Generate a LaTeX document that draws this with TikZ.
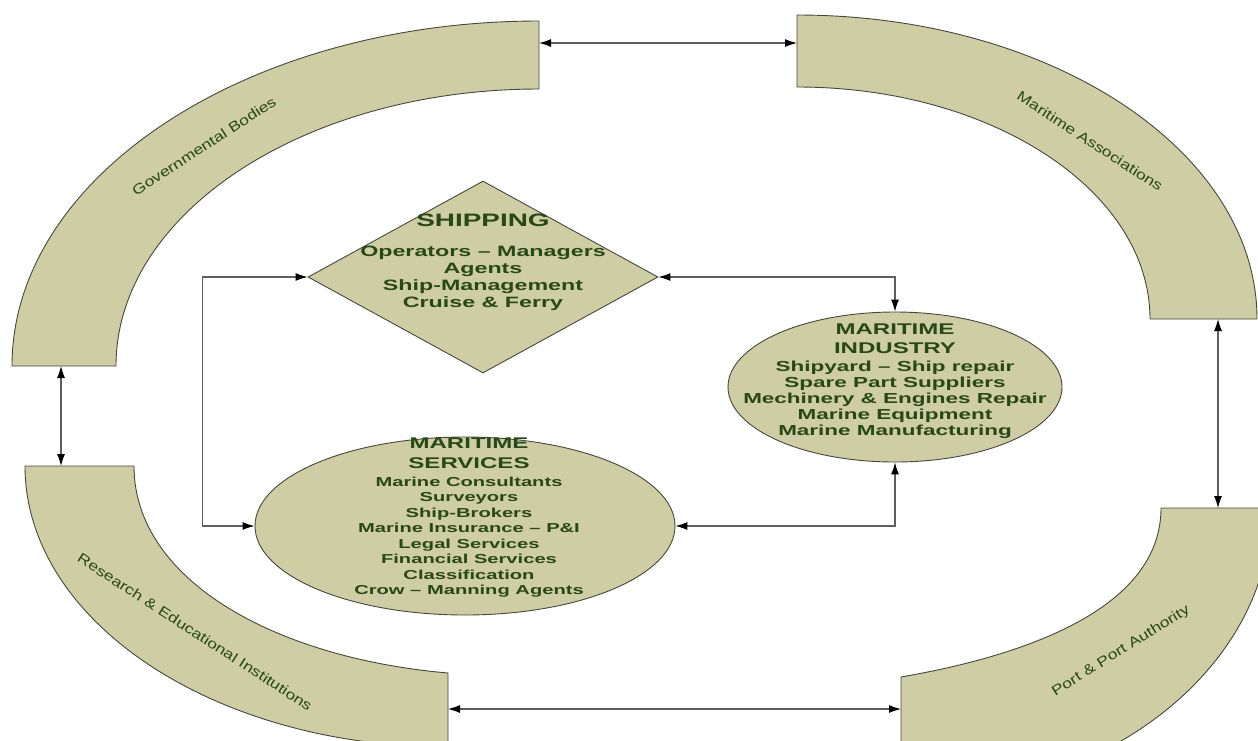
\documentclass[tikz,border=0pt]{standalone}
\usepackage{fontspec}
\setmainfont{Liberation Sans}
\newfontfamily\stretchfont[FakeStretch=1.55]{Liberation Sans}
\newfontfamily\labelfont[FakeStretch=1.25]{Liberation Sans}
\usetikzlibrary{shapes.geometric,arrows.meta}
\definecolor{khaki}{RGB}{206,205,164}
\definecolor{edgecol}{RGB}{70,72,60}
\definecolor{txtgreen}{RGB}{40,72,22}
\definecolor{conncol}{RGB}{95,95,95}
\begin{document}
\begin{tikzpicture}[x=1pt,y=-1pt,
  band/.style={fill=khaki,draw=edgecol,line width=0.9pt},
  boxshape/.style={fill=khaki,draw=edgecol,line width=0.9pt,inner sep=0pt},
  conn/.style={draw=conncol,line width=1.1pt,
    {Latex[length=12pt,width=8pt,color=black]}-{Latex[length=12pt,width=8pt,color=black]}},
  arclabel/.style={text=txtgreen,font=\labelfont\fontsize{14}{14}\selectfont,inner sep=0pt},
  boxtext/.style={text=txtgreen,align=center,inner sep=0pt},
]
\useasboundingbox (0,0) rectangle (1258,740);
\clip (0,0) rectangle (1258,740);

% outer bands
\path[band] (12,366) .. controls (12,176) and (248,21) .. (539,21) -- (539,89)
  .. controls (305,89) and (116,213) .. (116,366) -- cycle;
\path[band] (797,15) .. controls (1051,15) and (1257,151) .. (1257,319) -- (1150,319)
  .. controls (1150,191) and (992,87) .. (797,87) -- cycle;
\path[band] (25,466) .. controls (25,621) and (214,747) .. (448,747) -- (448,673)
  .. controls (275,658) and (134,580) .. (134,466) -- cycle;
\path[band] (1161,508) -- (1271,508) .. controls (1271,668) and (1105,798) .. (901,798)
  -- (901,677) .. controls (1045,652) and (1161,601) .. (1161,508) -- cycle;

\node[arclabel,rotate=33] (govlbl) at (204,146) {Governmental Bodies};
\node[arclabel,rotate=-33] (malbl) at (1090,141) {Maritime Associations};
\node[arclabel,rotate=-33] (reslbl) at (195,632) {Research \& Educational Institutions};
\node[arclabel,rotate=32] (portlbl) at (1121,651) {Port \& Port Authority};

\coordinate (govE) at (539,43);
\coordinate (maW) at (797,43);
\coordinate (govS) at (61,366);
\coordinate (resN) at (61,466);
\coordinate (maS) at (1218,319);
\coordinate (portN) at (1218,508);
\coordinate (resE) at (448,709);
\coordinate (portW) at (901,709);

% central shapes
\node[diamond,boxshape,minimum width=350pt,minimum height=192pt] (ship) at (483,277) {};
\node[ellipse,boxshape,minimum width=334pt,minimum height=150pt] (mi) at (895,387) {};
\node[ellipse,boxshape,minimum width=420pt,minimum height=178pt] (ms) at (465,526) {};

\node[boxtext,font=\stretchfont\bfseries\fontsize{15}{17}\selectfont] (shiptxt) at (483,262)
  {{\fontsize{18}{17}\selectfont SHIPPING}\\[13pt]
   Operators – Managers\\Agents\\Ship-Management\\Cruise \& Ferry};
\node[boxtext,font=\stretchfont\bfseries\fontsize{14.5}{16}\selectfont] (mitxt) at (895,381)
  {{\fontsize{15.5}{16}\selectfont MARITIME}\\[3pt]
   {\fontsize{15.5}{16}\selectfont INDUSTRY}\\[2pt]
   Shipyard – Ship repair\\Spare Part Suppliers\\Mechinery \& Engines Repair\\
   Marine Equipment\\Marine Manufacturing};
\node[boxtext,font=\stretchfont\bfseries\fontsize{13}{15.5}\selectfont] (mstxt) at (469,518)
  {{\fontsize{15.5}{15.5}\selectfont MARITIME}\\[4.5pt]
   {\fontsize{15.5}{15.5}\selectfont SERVICES}\\[2pt]
   Marine Consultants\\Surveyors\\Ship-Brokers\\Marine Insurance – P\&I\\
   Legal Services\\Financial Services\\Classification\\Crow – Manning Agents};

% connectors
\draw[conn] (govE) -- (maW);
\draw[conn] (govS) -- (resN);
\draw[conn] (maS) -- (portN);
\draw[conn] (resE) -- (portW);
\draw[conn] (ship.west) -- ++(-105,0) |- (ms.west);
\draw[conn] (ship.east) -| (mi.north);
\draw[conn] (ms.east) -| (mi.south);
\end{tikzpicture}
\end{document}
